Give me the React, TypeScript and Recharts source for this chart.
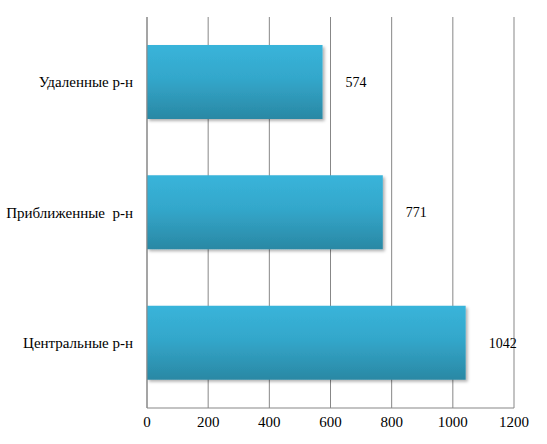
import React from "react";
import {
  BarChart,
  Bar,
  XAxis,
  YAxis,
  CartesianGrid,
  LabelList,
} from "recharts";

const regions = ["Удаленные р-н", "Приближенные\u00a0 р-н", "Центральные р-н"];
const counts = [574, 771, 1042];
const xTicks = [0, 200, 400, 600, 800, 1000, 1200];

const data = regions.map((name, i) => ({ name, value: counts[i] }));

const font = "Liberation Serif";

export default function App() {
  return (
    <div
      style={{
        position: "absolute",
        left: 0,
        top: 0,
        width: 547,
        height: 444,
        background: "#fff",
        fontFamily: font,
      }}
    >
      <BarChart
        width={547}
        height={444}
        data={data}
        layout="vertical"
        margin={{ top: 17, right: 33, bottom: 0, left: 0 }}
        barCategoryGap="21.5%"
        style={{ fontFamily: font }}
      >
        <defs>
          <linearGradient id="barFill" x1="0" y1="0" x2="0" y2="1">
            <stop offset="0%" stopColor="#39b4da" />
            <stop offset="45%" stopColor="#33a7cb" />
            <stop offset="100%" stopColor="#2a88a4" />
          </linearGradient>
          <filter id="barShadow" x="-5%" y="-10%" width="115%" height="130%">
            <feDropShadow dx="2" dy="2" stdDeviation="1.5" floodColor="#000" floodOpacity="0.3" />
          </filter>
        </defs>
        <CartesianGrid horizontal={false} stroke="#878787" />
        <XAxis
          type="number"
          domain={[0, 1200]}
          ticks={xTicks}
          interval={0}
          height={36}
          stroke="#878787"
          tickLine={false}
          tick={{ fill: "#000", fontSize: 15, style: { fontFamily: font } }}
        />
        <YAxis
          type="category"
          dataKey="name"
          width={147}
          stroke="#878787"
          tickLine={false}
          tickMargin={8}
          tick={{ fill: "#000", fontSize: 15, style: { fontFamily: font } }}
        />
        <Bar
          dataKey="value"
          fill="url(#barFill)"
          isAnimationActive={false}
          style={{ filter: "url(#barShadow)" }}
        >
          <LabelList
            dataKey="value"
            position="right"
            offset={23}
            fill="#000"
            fontSize={14}
            style={{ fontFamily: font }}
          />
        </Bar>
      </BarChart>
    </div>
  );
}
